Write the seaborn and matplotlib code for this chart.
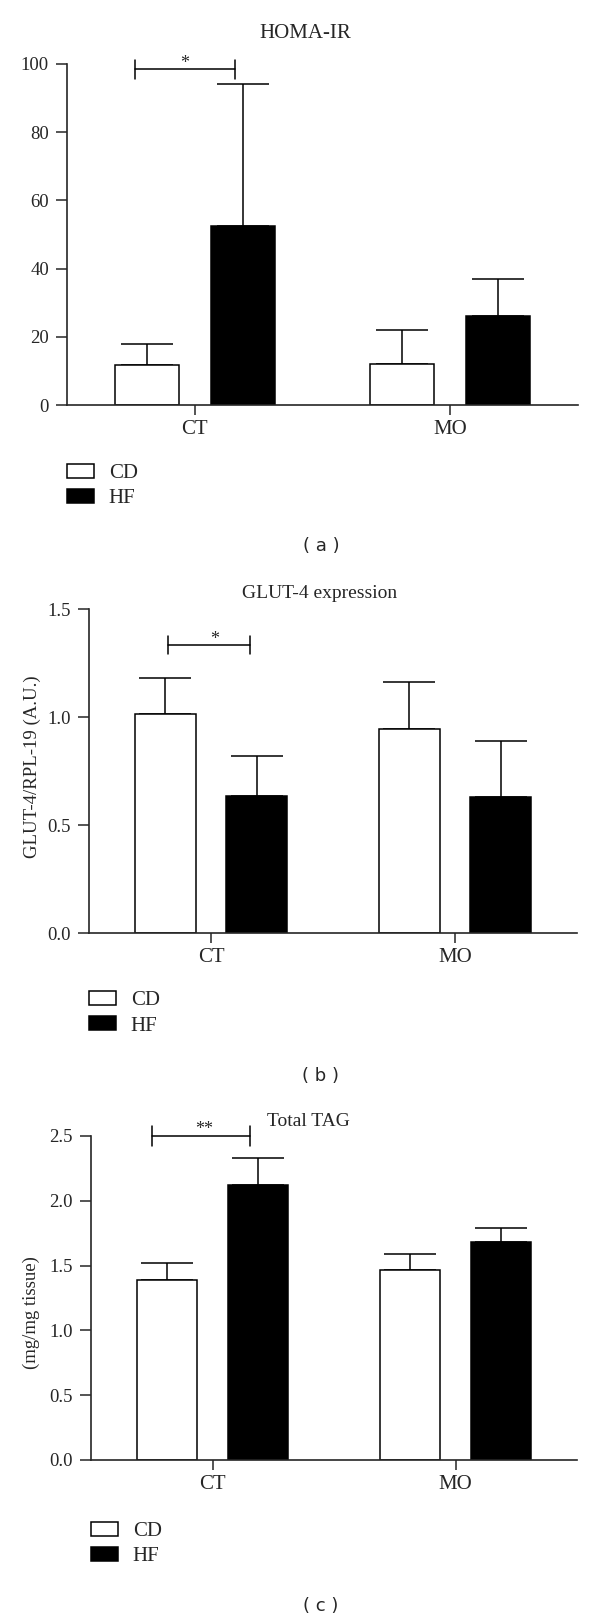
import numpy as np
import pandas as pd
import matplotlib
matplotlib.use("Agg")
import matplotlib.pyplot as plt
import seaborn as sns

# Data (mean, upper error)
groups = ["CT", "MO"]
diets = ["CD", "HF"]

homa_cd = [11.6, 12.1]
homa_hf = [52.4, 26.0]
homa_cd_err = [6.2, 9.8]
homa_hf_err = [41.6, 11.0]

glut_cd = [1.015, 0.946]
glut_hf = [0.636, 0.631]
glut_cd_err = [0.167, 0.216]
glut_hf_err = [0.183, 0.256]

tag_cd = [1.387, 1.464]
tag_hf = [2.124, 1.682]
tag_cd_err = [0.132, 0.124]
tag_hf_err = [0.205, 0.105]

homa_ticks = [0, 20, 40, 60, 80, 100]
glut_ticks = [0.0, 0.5, 1.0, 1.5]
tag_ticks = [0.0, 0.5, 1.0, 1.5, 2.0, 2.5]

sns.set_style("ticks")
plt.rcParams['font.family'] = ['Liberation Serif', 'DejaVu Serif']
plt.rcParams['axes.linewidth'] = 1.2

W, H = 600, 1620
fig = plt.figure(figsize=(W / 100, H / 100), dpi=100)


def px_rect(left, right, top, bottom):
    return [left / W, 1 - bottom / H, (right - left) / W, (bottom - top) / H]


def make_df(cd, hf):
    rows = []
    for g, a, b in zip(groups, cd, hf):
        rows.append({"group": g, "diet": "CD", "value": a})
        rows.append({"group": g, "diet": "HF", "value": b})
    return pd.DataFrame(rows)


def draw_panel(rect, cd, hf, cd_err, hf_err, ticks, ytick_fmt, bracket, star,
               title, title_xy, title_size, ylabel, ylabel_xy, legend_y, tag, tag_y):
    ax = fig.add_axes(rect)
    df = make_df(cd, hf)
    sns.barplot(data=df, x="group", y="value", hue="diet", order=groups,
                hue_order=diets, palette={"CD": "white", "HF": "black"},
                edgecolor="black", linewidth=1.1, width=0.75, gap=0.333,
                errorbar=None, ax=ax)

    # upper-only error bars
    errs = {"CD": cd_err, "HF": hf_err}
    for cont, d in zip(ax.containers, diets):
        xs = [b.get_x() + b.get_width() / 2 for b in cont]
        ys = [b.get_height() for b in cont]
        up = errs[d]
        ax.errorbar(xs, ys, yerr=[np.zeros(len(up)), up], fmt="none",
                    ecolor="black", elinewidth=1.1, capsize=19, capthick=1.1,
                    zorder=0.5)

    ax.set_xlim(-0.5, 1.5)
    ax.set_ylim(ticks[0], ticks[-1])
    ax.set_yticks(ticks)
    ax.set_yticklabels([ytick_fmt.format(t) for t in ticks])
    ax.set_xlabel("")
    ax.set_ylabel("")
    sns.despine(ax=ax)
    ax.tick_params(axis="y", length=8, width=1.1, pad=5, labelsize=13.5)
    ax.tick_params(axis="x", length=7, width=1.1, pad=4, labelsize=15)

    # significance bracket
    x0, x1, y, lo, hi = bracket
    kw = dict(color="black", lw=1.1, clip_on=False)
    ax.plot([x0, x1], [y, y], **kw)
    ax.plot([x0, x0], [lo, hi], **kw)
    ax.plot([x1, x1], [lo, hi], **kw)
    sx, sy, stext = star
    ax.text(sx, sy, stext, ha="center", va="baseline", fontsize=13)

    handles, labels = ax.get_legend_handles_labels()
    ax.legend(handles, labels, loc="center left", bbox_to_anchor=(0, legend_y),
              frameon=False, borderpad=0, borderaxespad=0, fontsize=15,
              handlelength=1.3, handleheight=0.65, handletextpad=0.7,
              labelspacing=0.28)

    fig.text(title_xy[0] / W, 1 - title_xy[1] / H, title, ha="center",
             va="center", fontsize=title_size)
    if ylabel:
        fig.text(ylabel_xy[0] / W, 1 - ylabel_xy[1] / H, ylabel, ha="center",
                 va="center", rotation=90, fontsize=13.5)
    fig.text(321 / W, 1 - tag_y / H, tag, ha="center", va="center",
             fontsize=13, family="DejaVu Sans")
    return ax


draw_panel(px_rect(67, 578, 64, 405), homa_cd, homa_hf, homa_cd_err, homa_hf_err,
           homa_ticks, "{:.0f}", (-0.232, 0.159, 98.5, 95.5, 101.3),
           (-0.04, 98.8, "*"), "HOMA-IR", (305, 33), 15, None, None, -0.2375,
           "( a )", 546)

draw_panel(px_rect(89, 577, 609, 933), glut_cd, glut_hf, glut_cd_err, glut_hf_err,
           glut_ticks, "{:.1f}", (-0.178, 0.161, 1.333, 1.292, 1.377),
           (0.016, 1.337, "*"), "GLUT-4 expression", (320, 593), 14,
           "GLUT-4/RPL-19 (A.U.)", (32, 767), -0.248, "( b )", 1076)

draw_panel(px_rect(91, 577, 1136, 1460), tag_cd, tag_hf, tag_cd_err, tag_hf_err,
           tag_ticks, "{:.1f}", (-0.249, 0.156, 2.503, 2.425, 2.577),
           (-0.033, 2.515, "**"), "Total TAG", (308, 1121), 14,
           "(mg/mg tissue)", (31, 1313), -0.259, "( c )", 1606)

fig.savefig("out.png", dpi=100)
